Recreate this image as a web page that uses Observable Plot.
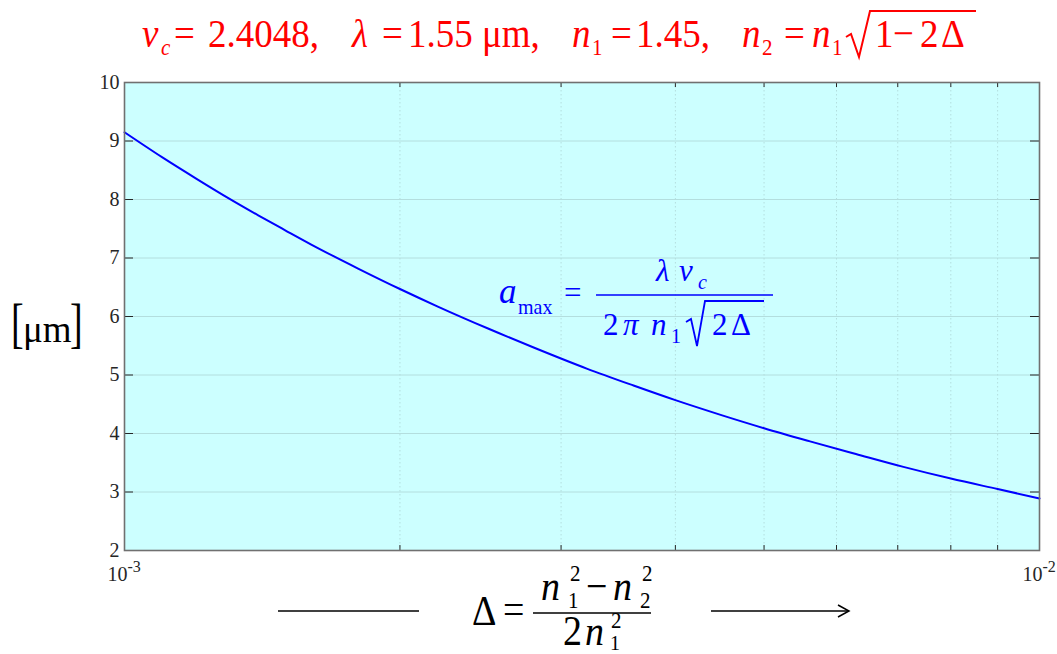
<!DOCTYPE html>
<html>
<head>
<meta charset="utf-8">
<script src="https://cdn.jsdelivr.net/npm/d3@7"></script>
<script src="https://cdn.jsdelivr.net/npm/@observablehq/plot@0.6"></script>
<style>
  html, body { margin: 0; padding: 0; background: #fff; }
  #chart { width: 1057px; height: 654px; }
</style>
</head>
<body>
<div id="chart"></div>
<script>
// Relative index difference Δ (log axis) and maximum single-mode core radius a_max [µm]
const delta = [0.0010, 0.0011, 0.0012, 0.0013, 0.0014, 0.0015, 0.0016, 0.0018, 0.0020, 0.0022,
               0.0025, 0.0028, 0.0032, 0.0036, 0.0040, 0.0045, 0.0050, 0.0056, 0.0063, 0.0071,
               0.0080, 0.0090, 0.0100];
const aMax  = [9.15, 8.72, 8.35, 8.02, 7.73, 7.47, 7.23, 6.82, 6.47, 6.17,
               5.79, 5.47, 5.11, 4.82, 4.57, 4.31, 4.09, 3.87, 3.65, 3.43,
               3.23, 3.05, 2.89];

// Axis ticks
const yTicks = [2, 3, 4, 5, 6, 7, 8, 9, 10];
const yGridLines = [3, 4, 5, 6, 7, 8, 9];
const xDecades = [0.001, 0.01];
const xDecadeExponents = ["-3", "-2"];
const xMinor = [0.002, 0.003, 0.004, 0.005, 0.006, 0.007, 0.008, 0.009];

const points = delta.map((d, i) => ({delta: d, a: aMax[i]}));

const W = 1057, H = 654;
const mL = 124, mR = 18, mT = 82, mB = 104;
const plotW = W - mL - mR, plotH = H - mT - mB;
const axisColor = "#262626";
const gridColor = "#b3dede";
const serif = "Liberation Serif, Tinos, Times New Roman, Times, DejaVu Serif, serif";

const chart = Plot.plot({
  width: W,
  height: H,
  marginLeft: mL, marginRight: mR, marginTop: mT, marginBottom: mB,
  style: {background: "#ffffff", fontFamily: serif, overflow: "visible"},
  x: {type: "log", domain: [0.001, 0.01], axis: null},
  y: {domain: [2, 10], axis: null},
  marks: [
    Plot.frame({fill: "#ccffff"}),
    Plot.gridY(yGridLines, {stroke: gridColor, strokeOpacity: 1, strokeWidth: 1}),
    Plot.gridX(xMinor, {stroke: gridColor, strokeOpacity: 1, strokeWidth: 1, strokeDasharray: "1.5,2.5"}),
    Plot.line(points, {x: "delta", y: "a", stroke: "#0000ff", strokeWidth: 2, curve: "monotone-x"}),
    // inward ticks
    Plot.tickY(yTicks, {y: d => d, stroke: axisColor, strokeWidth: 1, insetRight: plotW - 9}),
    Plot.tickY(yTicks, {y: d => d, stroke: axisColor, strokeWidth: 1, insetLeft: plotW - 9}),
    Plot.tickX(xMinor, {x: d => d, stroke: axisColor, strokeWidth: 1, insetTop: plotH - 5}),
    Plot.tickX(xMinor, {x: d => d, stroke: axisColor, strokeWidth: 1, insetBottom: plotH - 5}),
    Plot.frame({stroke: "#707070", strokeWidth: 1.6}),
    // tick labels
    Plot.text(yTicks, {y: d => d, text: d => String(d), frameAnchor: "left", textAnchor: "end",
      dx: -5, fontSize: 20, fill: axisColor, fontFamily: serif}),
    Plot.text(xDecades, {x: d => d, text: () => "10", frameAnchor: "bottom", textAnchor: "end",
      lineAnchor: "bottom", dx: 3, dy: 30, fontSize: 20, fill: axisColor, fontFamily: serif}),
    Plot.text(xDecades, {x: d => d, text: (d, i) => xDecadeExponents[i], frameAnchor: "bottom",
      textAnchor: "start", lineAnchor: "bottom", dx: 3, dy: 21, fontSize: 16, fill: axisColor, fontFamily: serif})
  ]
});

document.getElementById("chart").appendChild(chart);

// Typeset equation fragments drawn as SVG text
const svg = d3.select(chart);

function typeset(tokens, color, base) {
  const g = svg.append("g")
    .attr("fill", color)
    .attr("text-anchor", "start")
    .style("font-family", serif);
  for (const t of tokens) {
    const sy = t.sy ?? base.sy ?? 1;
    g.append("text")
      .attr("transform", `translate(${t.x},${t.y ?? base.y}) scale(1,${sy})`)
      .attr("text-anchor", "start")
      .style("font-family", serif)
      .attr("font-size", t.size ?? base.size)
      .attr("font-style", t.it ? "italic" : "normal")
      .text(t.s);
  }
  return g;
}
function stroke(d, color, w) {
  svg.append("path").attr("d", d).attr("fill", "none").attr("stroke", color)
    .attr("stroke-width", w).attr("stroke-linejoin", "miter");
}

// Parameters line above the plot
const red = "#ff0000";
typeset([
  {s: "v", x: 142, it: true},
  {s: "c", x: 161, y: 55, size: 21, it: true},
  {s: "=", x: 174},
  {s: "2.4048,", x: 208},
  {s: "λ", x: 352, it: true},
  {s: "=", x: 382},
  {s: "1.55", x: 408},
  {s: "μm,", x: 482},
  {s: "n", x: 572, it: true},
  {s: "1", x: 592, y: 55, size: 21},
  {s: "=", x: 611},
  {s: "1.45,", x: 636},
  {s: "n", x: 742, it: true},
  {s: "2", x: 762, y: 55, size: 21},
  {s: "=", x: 784},
  {s: "n", x: 812, it: true},
  {s: "1", x: 832, y: 55, size: 21},
  {s: "1", x: 875},
  {s: "−", x: 893},
  {s: "2", x: 920},
  {s: "Δ", x: 941}
], red, {y: 47, size: 37, sy: 1.1});
stroke("M846,37 L851,34 L859,57 L870,11 L976,11", red, 2);

// Curve formula inside the plot
const blue = "#0000ff";
typeset([
  {s: "a", x: 499, y: 303, size: 35, it: true},
  {s: "max", x: 518, y: 314, size: 20},
  {s: "=", x: 564, y: 303},
  {s: "λ", x: 656, y: 281, it: true},
  {s: "v", x: 679, y: 281, it: true},
  {s: "c", x: 698, y: 289, size: 20, it: true},
  {s: "2", x: 603},
  {s: "π", x: 623, it: true},
  {s: "n", x: 651, it: true},
  {s: "1", x: 671, y: 343, size: 20},
  {s: "2", x: 712},
  {s: "Δ", x: 731}
], blue, {y: 335, size: 31, sy: 1.05});
stroke("M596,295 L773,295", blue, 1.5);
stroke("M686,322 L691,319 L697,346 L705,301 L764,301", blue, 1.8);

// y-axis unit
typeset([
  {s: "[", x: 11, size: 38, sy: 1.45},
  {s: "μm", x: 23},
  {s: "]", x: 70, size: 38, sy: 1.45}
], "#000000", {y: 342, size: 37, sy: 1.05});

// x-axis quantity with arrow
const black = "#000000";
stroke("M278,611 L419,611", black, 1.5);
typeset([
  {s: "Δ", x: 472, y: 625},
  {s: "=", x: 503, y: 623},
  {s: "n", x: 541, y: 600, it: true},
  {s: "2", x: 570, y: 581, size: 21},
  {s: "1", x: 568, y: 608, size: 21},
  {s: "−", x: 586, y: 600},
  {s: "n", x: 613, y: 600, it: true},
  {s: "2", x: 642, y: 581, size: 21},
  {s: "2", x: 640, y: 608, size: 21},
  {s: "2", x: 563, y: 645},
  {s: "n", x: 585, y: 645, it: true},
  {s: "2", x: 611, y: 628, size: 21},
  {s: "1", x: 610, y: 650, size: 20}
], black, {size: 38, sy: 1.1});
stroke("M533,613 L651,613", black, 1.5);
stroke("M711,611 L848,611", black, 1.5);
stroke("M838,605 L849,611 L838,617", black, 1.5);
</script>
</body>
</html>
